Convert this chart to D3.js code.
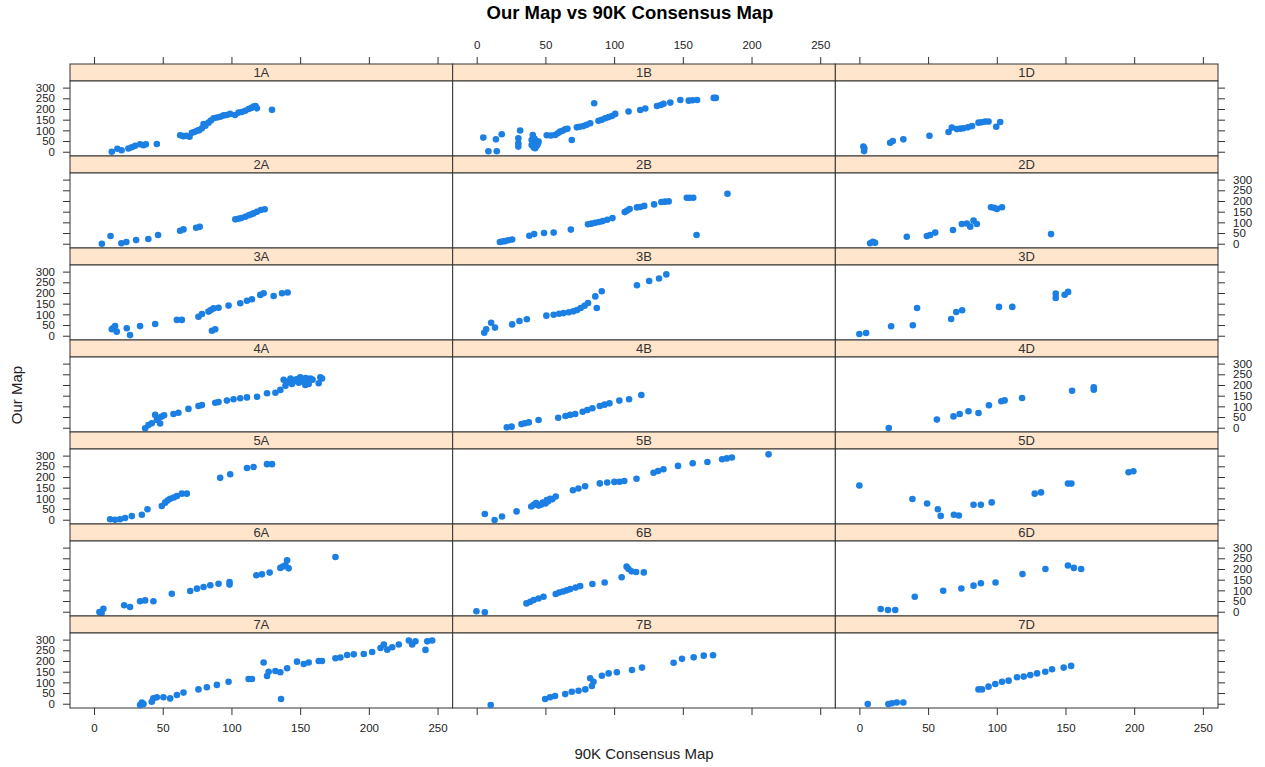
<!DOCTYPE html>
<html>
<head>
<meta charset="utf-8">
<script src="https://cdn.jsdelivr.net/npm/d3@7"></script>
<style>
body { margin: 0; background: #fff; }
text { font-family: "Liberation Sans", Arial, sans-serif; }
</style>
</head>
<body>
<div id="chart"></div>
<script>
var width = 1265,
	height = 767;

// panel names, row by row (A, B, D columns)
var panels = ["1A","1B","1D","2A","2B","2D","3A","3B","3D","4A","4B","4D","5A","5B","5D","6A","6B","6D","7A","7B","7D"];
var xTicks = [0, 50, 100, 150, 200, 250];
var yTicks = [0, 50, 100, 150, 200, 250, 300];

// [90K consensus position, our map position]
var p1A = [[12.9,0],[17,14],[20,7],[25,15],[27.5,21],[29.9,28],[33.5,35],[36,30],[37.7,35],[45.7,36],
	[62.7,77],[65,73],[67,75],[69.5,70],[71.2,89],[73,92],[74.9,98],[76.5,101],[78.5,110],[79.7,130],[81,122],
	[83.3,136],[85,146],[87,157],[89.5,160],[91.8,164],[94.3,170],[96.5,172],[99,177],[102.6,172],[105.2,183],
	[107.5,186],[110,192],[112.5,200],[114.5,205],[116.1,211],[117.5,214],[118.5,203],[129.5,196]];
var p1B = [[4.8,66],[8.5,2],[14.6,2],[14,58],[18.2,82],[31.6,99],[30.3,63],[30.3,24],[30.3,40],[40,55],[40,31],
	[42.5,16],[44.6,40],[43,25],[41,45],[40.8,78],[42,62],[43.5,50],[41.5,20],[44,30],[45,48],[51,77],[54,76],[57,78],
	[59,86],[60.7,94],[62.5,98],[64.4,105],[66,107],[69.2,55],[72.9,114],[75,117],[77.7,120],[80,126],[82.6,133],
	[85.5,227],[88.6,145],[91,150],[93.5,157],[96,162],[98.4,167],[100.8,177],[110.5,188],[119,195],[122.7,202],
	[131.2,214],[134,219],[136,224],[140.9,230],[148.2,242],[154.3,239],[157,241],[160.4,242],[172.5,252],[174,252]];
var p1D = [[2.9,24],[3.4,3],[3.6,16],[22.4,42],[24.3,50],[32,58],[51,75],[64.9,92],[67.3,113],[71,106],[73.5,108],
	[75.8,110],[79,114],[82,120],[86.7,136],[89,138],[91.6,141],[94,141],[99.6,117],[102.5,139]];
var p2A = [[5.7,0],[12,36],[19.9,2],[23.5,8],[30.6,17],[39.5,22],[46.6,41],[62.6,61],[65.1,67],[74.3,75],[76.9,79],
	[102.8,114],[105,117],[107.1,120],[110,126],[112.5,133],[114,137],[116,142],[118.5,150],[121.4,158],[124.2,161]];
var p2B = [[16.9,8],[18.5,10],[20.5,12],[23,16],[25.8,20],[38.3,37],[41.8,45],[49,50],[56,52],[68.5,66],[81,91],
	[83.5,94],[86.3,98],[89,102],[91.7,106],[95,112],[98.8,120],[107.7,148],[109.5,155],[111.3,162],[116.6,170],
	[119,172],[121.9,177],[129.1,184],[134.4,195],[137,197],[139.7,198],[152.9,215],[155,215],[157.6,215],[160,41],
	[182.5,234]];
var p2D = [[7.8,2],[9.8,9],[11.4,4],[34.5,33],[49.1,36],[51.5,41],[55.2,52],[68.1,64],[74.6,92],[78.2,95],[80.7,80],
	[83.1,108],[85.5,92],[95.8,171],[98,168],[100.1,163],[103.8,171],[139.5,45]];
var p3A = [[12.9,30],[15.3,45],[16.5,19],[14,36],[23.8,35],[26.2,3],[33.5,45],[44.5,55],[60.3,74],[63.9,74],[76,89],
	[78.5,102],[83.3,113],[85,120],[87,128],[90.6,131],[85.8,23],[88.2,30],[97.9,141],[106.4,152],[111.3,164],
	[114.9,171],[121,191],[123.4,199],[130.7,186],[136.8,199],[140.9,202]];
var p3B = [[5.5,14],[6.9,30],[10.5,61],[13.3,38],[25.8,53],[31.1,69],[36.5,77],[50.7,94],[56,98],[60,103],[63.2,106],
	[67,110],[70.3,114],[73,120],[75.7,130],[78.5,140],[81,153],[86.3,184],[91,208],[87.4,130],[116.6,236],[125.5,256],
	[132.7,268],[138,287]];
var p3D = [[0,8],[4.9,13],[23.1,44],[38.9,49],[42,130],[66.8,78],[70.5,111],[74.8,119],[101.6,135],[111.3,135],
	[142.9,197],[142.9,177],[149.4,192],[151.9,205]];
var p4A = [[37.2,-3],[39.6,13],[42,21],[45.7,36],[44.5,60],[49.3,52],[48.1,20],[47,45],[51,58],[57.8,64],[61.4,70],
	[68.7,88],[76,102],[78.5,106],[88.2,117],[90.6,120],[96.7,127],[101.5,133],[106.4,138],[111.3,142],[118.6,145],
	[125.9,161],[132,164],[135.6,177],[139.3,196],[138,224],[141.6,216],[144,205],[146.5,224],[149,211],[150.1,236],
	[152.6,224],[153.8,200],[156.2,205],[157.4,230],[140,210],[143,230],[145,215],[148,228],[151,218],[154,232],
	[155,215],[159,225],[163.5,208],[164.7,236],[165.9,230]];
var p4B = [[21.9,2],[25.4,5],[32.6,17],[35,21],[37.9,25],[45,36],[59.3,47],[64.6,55],[68,60],[71.7,64],[77.1,75],
	[80.5,83],[84.2,91],[89.6,102],[93,108],[96.6,114],[103.8,127],[110.9,133],[119.8,153]];
var p4D = [[21.4,-1],[56.4,38],[68.5,53],[73,64],[79.4,77],[86.7,69],[94.3,105],[103.3,124],[105.7,128],[118.4,139],
	[154.8,173],[170.6,189],[170.6,178]];
var p5A = [[11.7,2],[15.3,0],[18.9,2],[22.6,8],[27.5,17],[34.8,23],[38.9,49],[49.3,64],[51.7,80],[53.5,90],[55.4,98],
	[58,104],[60.3,111],[63.9,122],[67.5,122],[91.8,196],[99.1,213],[111.3,242],[116.1,247],[125.9,260],[129.5,260]];
var p5B = [[5.9,27],[13,-1],[18.4,15],[29,39],[39.7,62],[41.5,70],[43.2,78],[45,66],[46.8,70],[48,80],[50,76],[51,92],
	[52,86],[53.5,98],[55,96],[57.5,109],[70,138],[74,146],[78.9,157],[89.6,170],[95,174],[100.2,177],[104,178],
	[107.4,181],[116.3,192],[128.7,220],[132,228],[135.9,236],[146.5,252],[157.2,264],[167.9,270],[178.6,283],
	[182,287],[185.7,291],[212.4,306]];
var p5D = [[0,160],[38.6,97],[49.3,76],[57.1,49],[59.2,18],[68.8,23],[72.4,20],[83.1,70],[88.4,70],[96.3,81],
	[127.6,122],[132.2,128],[151.8,169],[154.3,169],[195.9,222],[199.4,227]];
var p6A = [[3.9,-1],[6.8,14],[5.5,-6],[21.9,30],[26.2,22],[33.5,49],[37.2,53],[43.2,49],[56.6,84],[70,97],[74.9,108],
	[79.7,116],[84.6,124],[90.6,131],[98.6,139],[98.6,127],[118.1,171],[122.2,175],[127.8,183],[135.6,205],[139.3,217],
	[140.5,241],[141.6,203],[137.5,212],[175.7,256]];
var p6B = [[-0.2,2],[5.9,-3],[36.2,39],[39,47],[41.5,55],[45,62],[48.6,70],[57.5,83],[60,90],[62.8,95],[65.5,100],
	[68.1,106],[72,113],[75.3,120],[84.2,130],[93.1,137],[105.5,161],[109.1,211],[110.5,200],[112.7,189],[116,186],
	[121.6,184]];
var p6D = [[15.5,13],[20.8,8],[26.1,8],[40.3,70],[61,98],[74.2,109],[83.1,122],[88.4,133],[99.1,137],[118.7,176],
	[135.4,200],[151.8,216],[156.1,205],[161.4,200]];
var p7A = [[33.5,-6],[34.8,5],[36,-1],[42,9],[43.2,25],[45.7,30],[50.5,30],[55.4,25],[60.3,41],[65.1,52],[76,67],
	[82.1,77],[89.4,88],[97.9,103],[112.5,116],[114.9,116],[123.4,193],[125.9,130],[127.1,150],[132,153],[135.6,147],
	[136.1,22],[140.5,166],[147.7,197],[152.6,186],[156.2,193],[163.5,200],[165.9,200],[175.7,213],[179.3,216],
	[184.2,228],[189,231],[196.3,233],[202.4,242],[208.5,261],[210.9,277],[213.4,253],[217,264],[221.8,277],
	[229.1,296],[231.5,277],[233.9,292],[241.2,252],[242.5,292],[246.1,296]];
var p7B = [[10.2,-6],[49.8,22],[53.4,30],[57,36],[64.4,45],[69.2,56],[74.1,61],[79,67],[83.8,83],[82.6,119],[85,103],
	[91.1,131],[96,142],[102,147],[113,158],[120.3,169],[143.3,192],[149.4,210],[157.9,217],[165.2,225],[172,227]];
var p7D = [[6.1,-1],[21.1,-1],[23.6,2],[27.2,6],[32,6],[86.7,67],[89.2,67],[94,80],[98.9,92],[103.8,103],[108.6,108],
	[114.7,124],[119.6,127],[124.4,134],[129.3,142],[135.3,150],[140.2,161],[148.7,169],[154.1,177]];

var panelData = {"1A":p1A,"1B":p1B,"1D":p1D,"2A":p2A,"2B":p2B,"2D":p2D,"3A":p3A,"3B":p3B,"3D":p3D,
	"4A":p4A,"4B":p4B,"4D":p4D,"5A":p5A,"5B":p5B,"5D":p5D,"6A":p6A,"6B":p6B,"6D":p6D,"7A":p7A,"7B":p7B,"7D":p7D};

// layout of the panel block
var gridLeft = 70, gridRight = 1218, gridTop = 64, gridBottom = 708;
var nCol = 3, nRow = 7, stripH = 17;
var colW = (gridRight - gridLeft) / nCol,
	rowH = (gridBottom - gridTop) / nRow,
	plotH = rowH - stripH;

var x = d3.scaleLinear().domain([-17.5, 261]).range([0, colW]);
var y = d3.scaleLinear().domain([-20, 331]).range([plotH, 0]);

var svg = d3.select("#chart").append("svg")
	.attr("width", width)
	.attr("height", height);

function styleAxis(g, showLabels) {
	g.select(".domain").remove();
	g.selectAll(".tick line").attr("stroke", "#333");
	g.selectAll(".tick text")
		.attr("fill", "#222")
		.style("font-size", "11.5px")
		.style("display", showLabels ? null : "none");
}

panels.forEach(function(name, i) {
	var r = Math.floor(i / nCol), c = i % nCol;
	var g = svg.append("g")
		.attr("transform", "translate(" + (gridLeft + c * colW) + "," + (gridTop + r * rowH) + ")");

	//strip
	g.append("rect")
		.attr("width", colW).attr("height", stripH)
		.attr("fill", "#ffe5cc").attr("stroke", "#333");
	g.append("text")
		.attr("x", colW / 2).attr("y", stripH / 2 + 4.5)
		.attr("text-anchor", "middle")
		.style("font-size", "13px").attr("fill", "#333")
		.text(name);

	var plot = g.append("g").attr("transform", "translate(0," + stripH + ")");
	plot.append("rect")
		.attr("width", colW).attr("height", plotH)
		.attr("fill", "#fff").attr("stroke", "#333");

	plot.selectAll("circle")
		.data(panelData[name])
		.enter()
		.append("circle")
		.attr("cx", function(d) { return x(d[0]); })
		.attr("cy", function(d) { return y(d[1]); })
		.attr("r", 3.3)
		.attr("fill", "#1b7fe3");

	//axes: lattice alternates labels between sides
	if (r === 0) {
		g.append("g")
			.call(d3.axisTop(x).tickValues(xTicks).tickSize(7).tickPadding(8))
			.call(styleAxis, c === 1);
	}
	if (r === nRow - 1) {
		plot.append("g")
			.attr("transform", "translate(0," + plotH + ")")
			.call(d3.axisBottom(x).tickValues(xTicks).tickSize(7).tickPadding(9))
			.call(styleAxis, c !== 1);
	}
	if (c === 0) {
		plot.append("g")
			.call(d3.axisLeft(y).tickValues(yTicks).tickSize(7).tickPadding(8))
			.call(styleAxis, r % 2 === 0);
	}
	if (c === nCol - 1) {
		plot.append("g")
			.attr("transform", "translate(" + colW + ",0)")
			.call(d3.axisRight(y).tickValues(yTicks).tickSize(7).tickPadding(8))
			.call(styleAxis, r % 2 === 1);
	}
});

svg.append("text")
	.attr("x", 630).attr("y", 19)
	.attr("text-anchor", "middle")
	.style("font-size", "18.5px").style("font-weight", "bold")
	.text("Our Map vs 90K Consensus Map");

svg.append("text")
	.attr("x", (gridLeft + gridRight) / 2).attr("y", 759)
	.attr("text-anchor", "middle")
	.style("font-size", "15px").attr("fill", "#222")
	.text("90K Consensus Map");

svg.append("text")
	.attr("transform", "translate(22," + ((gridTop + gridBottom) / 2 + 9) + ") rotate(-90)")
	.attr("text-anchor", "middle")
	.style("font-size", "15px").attr("fill", "#222")
	.text("Our Map");
</script>
</body>
</html>
